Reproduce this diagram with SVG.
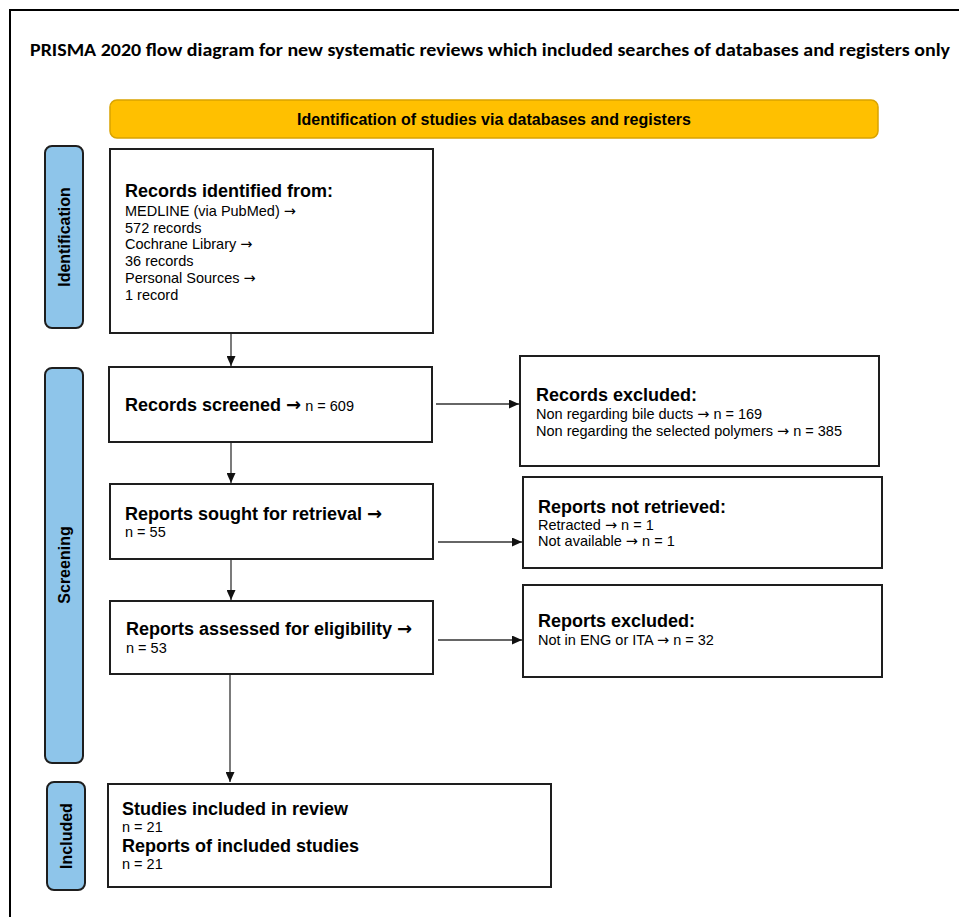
<svg xmlns="http://www.w3.org/2000/svg" width="959" height="917" viewBox="0 0 959 917">
<defs>
<style>
.box{fill:#fff;stroke:#1e1e1e;stroke-width:2}
.side{fill:#8EC5EA;stroke:#1e1e1e;stroke-width:2}
.h{font-family:'Liberation Sans',Arial,sans-serif;font-weight:bold;font-size:18px;fill:#000}
.t{font-family:'Liberation Sans',Arial,sans-serif;font-size:14.5px;fill:#000}
.a{font-family:'DejaVu Sans',sans-serif}
.s{font-family:'Liberation Sans',Arial,sans-serif;font-weight:bold;font-size:16px;fill:#000;text-anchor:middle}
.conn line{stroke:#333;stroke-width:1.3;fill:none}
</style>
<marker id="ah" markerUnits="userSpaceOnUse" markerWidth="11" markerHeight="9" refX="10" refY="4.5" orient="auto">
<path d="M0,0 L10,4.5 L0,9 Z" fill="#111"/>
</marker>
</defs>
<rect x="0" y="0" width="959" height="917" fill="#fff"/>
<rect x="10" y="10" width="1000" height="1000" fill="none" stroke="#000" stroke-width="2"/>
<text x="30" y="56" font-family="Carlito,'Liberation Sans Narrow','Liberation Sans',Arial,sans-serif" font-weight="bold" font-size="19" textLength="920" lengthAdjust="spacingAndGlyphs">PRISMA 2020 flow diagram for new systematic reviews which included searches of databases and registers only</text>

<g id="banner">
<rect x="110" y="100" width="768" height="38" rx="7" fill="#FFC000" stroke="#D9A300" stroke-width="1.5"/>
<text class="s" x="494" y="125">Identification of studies via databases and registers</text>
</g>

<g id="side-identification">
<rect class="side" x="45" y="146" width="38" height="182" rx="7"/>
<text class="s" transform="translate(70,237) rotate(-90)">Identification</text>
</g>
<g id="side-screening">
<rect class="side" x="45" y="368" width="38" height="395" rx="7"/>
<text class="s" transform="translate(70,565) rotate(-90)">Screening</text>
</g>
<g id="side-included">
<rect class="side" x="47" y="782" width="38" height="108" rx="7"/>
<text class="s" transform="translate(72,836) rotate(-90)">Included</text>
</g>

<g id="identified">
<rect class="box" x="110" y="149" width="323" height="184"/>
<text class="h" x="125" y="197">Records identified from:</text>
<text class="t" x="125" y="216">MEDLINE (via PubMed) <tspan class="a">→</tspan></text>
<text class="t" x="125" y="232.7">572 records</text>
<text class="t" x="125" y="249.4">Cochrane Library <tspan class="a">→</tspan></text>
<text class="t" x="125" y="266">36 records</text>
<text class="t" x="125" y="282.8">Personal Sources <tspan class="a">→</tspan></text>
<text class="t" x="125" y="299.5">1 record</text>
</g>

<g id="screened">
<rect class="box" x="109" y="367" width="323" height="75"/>
<text x="125" y="411"><tspan class="h">Records screened </tspan><tspan class="h a">→</tspan><tspan class="t"> n = 609</tspan></text>
</g>

<g id="excluded-records">
<rect class="box" x="520" y="356" width="359" height="110"/>
<text class="h" x="536" y="401">Records excluded:</text>
<text class="t" x="536" y="419">Non regarding bile ducts <tspan class="a">→</tspan> n = 169</text>
<text class="t" x="536" y="436">Non regarding the selected polymers <tspan class="a">→</tspan> n = 385</text>
</g>

<g id="sought">
<rect class="box" x="110" y="484" width="323" height="75"/>
<text class="h" x="125" y="520">Reports sought for retrieval <tspan class="a">→</tspan></text>
<text class="t" x="125" y="537">n = 55</text>
</g>

<g id="not-retrieved">
<rect class="box" x="523" y="477" width="359" height="91"/>
<text class="h" x="538" y="513">Reports not retrieved:</text>
<text class="t" x="538" y="530">Retracted <tspan class="a">→</tspan> n = 1</text>
<text class="t" x="538" y="546">Not available <tspan class="a">→</tspan> n = 1</text>
</g>

<g id="assessed">
<rect class="box" x="110" y="601" width="323" height="73"/>
<text class="h" x="126" y="635">Reports assessed for eligibility <tspan class="a">→</tspan></text>
<text class="t" x="126" y="653">n = 53</text>
</g>

<g id="excluded-reports">
<rect class="box" x="523" y="585" width="359" height="92"/>
<text class="h" x="538" y="627">Reports excluded:</text>
<text class="t" x="538" y="645">Not in ENG or ITA <tspan class="a">→</tspan> n = 32</text>
</g>

<g id="included">
<rect class="box" x="108" y="784" width="443" height="103"/>
<text class="h" x="122" y="815">Studies included in review</text>
<text class="t" x="122" y="832">n = 21</text>
<text class="h" x="122" y="852">Reports of included studies</text>
<text class="t" x="122" y="869">n = 21</text>
</g>

<g id="connectors" class="conn">
<line x1="231" y1="334" x2="231" y2="366" marker-end="url(#ah)"/>
<line x1="231" y1="443" x2="231" y2="483" marker-end="url(#ah)"/>
<line x1="231" y1="560" x2="231" y2="600" marker-end="url(#ah)"/>
<line x1="230" y1="675" x2="230" y2="782" marker-end="url(#ah)"/>
<line x1="436" y1="404" x2="519" y2="404" marker-end="url(#ah)"/>
<line x1="438" y1="542" x2="522" y2="542" marker-end="url(#ah)"/>
<line x1="438" y1="640" x2="522" y2="640" marker-end="url(#ah)"/>
</g>
</svg>
